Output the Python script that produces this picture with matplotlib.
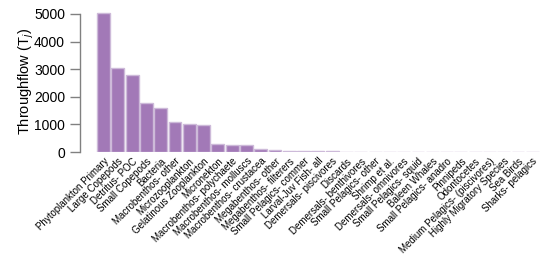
import matplotlib
matplotlib.use("Agg")
import matplotlib.pyplot as plt

plt.rcParams['font.family'] = ['Liberation Sans', 'DejaVu Sans']
plt.rcParams['mathtext.fontset'] = 'custom'
plt.rcParams['mathtext.rm'] = 'Liberation Sans'
plt.rcParams['mathtext.it'] = 'Liberation Sans:italic'

labels = ["Phytoplankton Primary", "Large Copepods", "Detritus- POC", "Small Copepods",
          "Bacteria", "Macrobenthos- other", "Microzooplankton", "Gelatinous Zooplankton",
          "Micronekton", "Macrobenthos- polychaete", "Macrobenthos- molluscs",
          "Macrobenthos- crustacea", "Megabenthos- other", "Megabenthos- filterers",
          "Small Pelagics- commer", "Larval-Juv Fish- all", "Demersals- piscivores",
          "Discards", "Demersals- benthivores", "Small Pelagics- other", "Shrimp et al.",
          "Demersals- omnivores", "Small Pelagics- squid", "Baleen Whales",
          "Small Pelagics- anadro", "Pinnipeds", "Odontocetes",
          "Medium Pelagics- (piscivores)", "Highly Migratory Species", "Sea Birds",
          "Sharks- pelagics"]
throughflow = [5050, 3060, 2780, 1760, 1580, 1080, 1000, 990, 280, 270, 240, 100,
               70, 40, 30, 22, 20, 16, 15, 13, 11, 10, 8, 6, 5, 4, 3, 2, 2, 1, 1]
yticks = [0, 1000, 2000, 3000, 4000, 5000]

fig = plt.figure(figsize=(5.6, 2.8), dpi=100)
ax = fig.add_axes([0.1607, 0.457, 0.814, 0.503])

x = range(len(labels))
ax.bar(x, throughflow, width=0.9, color='#a279b7', edgecolor='#cdbad9', linewidth=1.0)

ax.set_xlim(-0.95, len(labels) - 0.05)
ax.set_ylim(0, 5100)
ax.set_yticks(yticks)
ax.set_yticklabels([str(v) for v in yticks], fontsize=9)
ax.set_xticks(list(x))
ax.set_xticklabels(labels, rotation=45, ha='right', rotation_mode='anchor', fontsize=7)
ax.tick_params(axis='x', length=0, pad=3)
ax.tick_params(axis='y', length=7, color='#808080', width=1, pad=4)

for s in ['top', 'right', 'bottom']:
    ax.spines[s].set_visible(False)
ax.spines['left'].set_position(('outward', 7))
ax.spines['left'].set_bounds(0, 5000)
ax.spines['left'].set_color('#808080')
ax.spines['left'].set_linewidth(1)

ax.set_ylabel('Throughflow (T$_j$)', fontsize=10.5)
ax.yaxis.set_label_coords(-0.118, 0.5)

fig.savefig('out.png', dpi=100)
